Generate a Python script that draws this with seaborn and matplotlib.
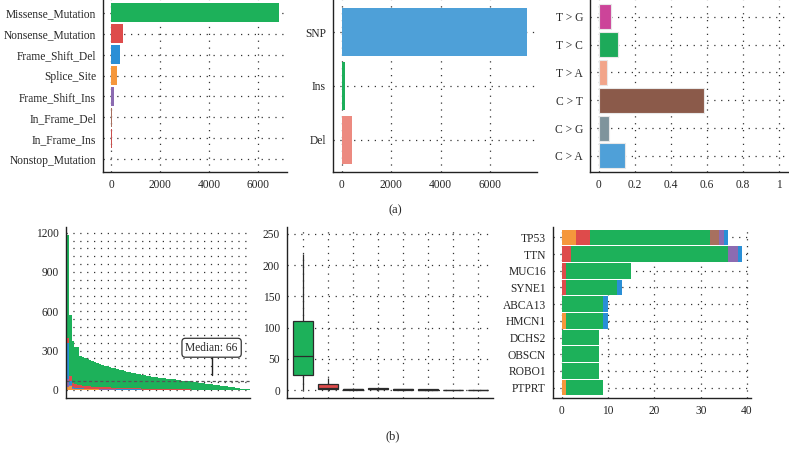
import numpy as np
import pandas as pd
import matplotlib
matplotlib.use("Agg")
import matplotlib.pyplot as plt
import seaborn as sns
from matplotlib.ticker import MultipleLocator

# ---- datos panel (a) ----
clases = ["Missense_Mutation", "Nonsense_Mutation", "Frame_Shift_Del", "Splice_Site",
          "Frame_Shift_Ins", "In_Frame_Del", "In_Frame_Ins", "Nonstop_Mutation"]
conteo_clases = [6860, 475, 370, 235, 100, 55, 20, 10]

tipos = ["SNP", "Ins", "Del"]
conteo_tipos = [7500, 120, 420]

snv = ["T > G", "T > C", "T > A", "C > T", "C > G", "C > A"]
fraccion_snv = [0.07, 0.11, 0.045, 0.585, 0.055, 0.145]

# ---- datos panel (b) ----
total_muestra = [1180, 570, 370, 330, 330, 260, 255, 245, 235, 228,
                 220, 212, 205, 198, 192, 186, 180, 175, 170, 165,
                 160, 155, 150, 145, 140, 136, 132, 128, 124, 120,
                 116, 112, 108, 105, 102, 99, 96, 93, 90, 88,
                 86, 84, 82, 80, 78, 75, 72, 70, 67, 65,
                 62, 60, 57, 55, 52, 50, 47, 45, 42, 40,
                 37, 35, 32, 30, 27, 25, 22, 19, 16, 13,
                 10, 8, 6, 4]
nonsense_muestra = [40, 40, 30, 28, 25, 22, 20, 20, 18, 18,
                    16, 16, 15, 15, 14, 14, 13, 13, 12, 12,
                    12, 11, 11, 10, 10, 10, 9, 9, 9, 8,
                    8, 8, 7, 7, 7, 7, 6, 6, 6, 6,
                    5, 5, 5, 5, 5, 4, 4, 4, 4, 4,
                    3, 3, 3, 3, 3, 3, 2, 2, 2, 2,
                    2, 2, 2, 1, 1, 1, 1, 1, 1, 1,
                    1, 0, 0, 0]
fsdel_muestra = [280, 30, 8, 6, 6, 5, 5, 4, 4, 4,
                 4, 3, 3, 3, 3, 3, 3, 2, 2, 2,
                 2, 2, 2, 2, 2, 2, 2, 2, 1, 1,
                 1, 1, 1, 1, 1, 1, 1, 1, 1, 1,
                 1, 1, 1, 1, 1, 1, 1, 1, 0, 0,
                 0, 0, 0, 0, 0, 0, 0, 0, 0, 0,
                 0, 0, 0, 0, 0, 0, 0, 0, 0, 0,
                 0, 0, 0, 0]
splice_muestra = [20, 30, 10, 8, 6, 6, 5, 5, 5, 4,
                  4, 4, 4, 3, 3, 3, 3, 3, 3, 3,
                  2, 2, 2, 2, 2, 2, 2, 2, 2, 2,
                  1, 1, 1, 1, 1, 1, 1, 1, 1, 1,
                  1, 1, 1, 1, 1, 1, 1, 1, 1, 1,
                  0, 0, 0, 0, 0, 0, 0, 0, 0, 0,
                  0, 0, 0, 0, 0, 0, 0, 0, 0, 0,
                  0, 0, 0, 0]
fsins_muestra = [60, 10, 4, 3, 3, 2, 2, 2, 2, 2,
                 1, 1, 1, 1, 1, 1, 1, 1, 1, 1,
                 1, 1, 1, 1, 1, 1, 1, 1, 1, 1,
                 0, 0, 0, 0, 0, 0, 0, 0, 0, 0,
                 0, 0, 0, 0, 0, 0, 0, 0, 0, 0,
                 0, 0, 0, 0, 0, 0, 0, 0, 0, 0,
                 0, 0, 0, 0, 0, 0, 0, 0, 0, 0,
                 0, 0, 0, 0]
mediana_tmb = 66

# variantes por muestra (boxplot)
caja_valores = {
    "Missense_Mutation": [0, 5, 24, 35, 55, 80, 110, 160, 218],
    "Nonsense_Mutation": [0, 1, 1, 3, 4, 6, 9, 14, 20],
    "Frame_Shift_Del": [0, 0, 0, 1, 1, 1, 2, 3, 4],
    "Splice_Site": [0, 0, 1, 1, 2, 2, 3, 5, 7],
    "Frame_Shift_Ins": [0, 0, 0, 0, 1, 1, 1, 2, 3],
    "In_Frame_Del": [0, 0, 0, 0, 0, 1, 1, 1, 2],
    "In_Frame_Ins": [0, 0, 0, 0, 0, 0, 0, 0, 1],
    "Nonstop_Mutation": [0, 0, 0, 0, 0, 0, 0, 0, 0],
}

genes = ["TP53", "TTN", "MUC16", "SYNE1", "ABCA13", "HMCN1", "DCHS2", "OBSCN", "ROBO1", "PTPRT"]
gen_splice = [3, 0, 0, 0, 0, 1, 0, 0, 0, 1]
gen_nonsense = [3, 2, 1, 1, 0, 0, 0, 0, 0, 0]
gen_missense = [26, 34, 14, 11, 9, 8, 8, 8, 8, 8]
gen_inframe = [2, 0, 0, 0, 0, 0, 0, 0, 0, 0]
gen_fsins = [1, 2, 0, 0, 0, 0, 0, 0, 0, 0]
gen_fsdel = [1, 1, 0, 1, 1, 1, 0, 0, 0, 0]

# ---- colores ----
col_clase = {"Missense_Mutation": "#1DB15A", "Nonsense_Mutation": "#DE4B4B",
             "Frame_Shift_Del": "#2A8FD6", "Splice_Site": "#F5973C",
             "Frame_Shift_Ins": "#8C6BB1", "In_Frame_Del": "#A8705F",
             "In_Frame_Ins": "#C9504E", "Nonstop_Mutation": "#5BB8E0"}
col_tipos = ["#4EA0D8", "#1DAE5A", "#EC8A80"]
col_snv = ["#CC4499", "#1DAA5A", "#F2A58A", "#8B5A4A", "#7F949C", "#4FA0D8"]

sns.set_style("white")
plt.rcParams["font.family"] = ["Liberation Serif", "DejaVu Serif"]
plt.rcParams["font.size"] = 8.3

W, H = 789, 454
fig = plt.figure(figsize=(W / 100, H / 100), dpi=100)


def caja(x0, y0, x1, y1):
    return fig.add_axes([x0 / W, 1 - y1 / H, (x1 - x0) / W, (y1 - y0) / H])


puntos = dict(color="#333333", linestyle=(0, (1, 4.5)), linewidth=0.9)


def estilo(ax):
    sns.despine(ax=ax)
    for s in ["left", "bottom"]:
        ax.spines[s].set_color("#222222")
        ax.spines[s].set_linewidth(1.0)
    ax.tick_params(length=3, width=0.8, color="#222222", pad=2)
    ax.set_axisbelow(True)
    ax.grid(True, **puntos)
    ax.set_xlabel("")
    ax.set_ylabel("")


# (a) clase de variante
ax1 = caja(103, 0, 287, 172)
sns.barplot(x=conteo_clases, y=clases, hue=clases, palette=col_clase, legend=False,
            orient="h", width=0.9, saturation=1, linewidth=0, ax=ax1)
estilo(ax1)
ax1.set_xlim(-330, 7180)
ax1.set_ylim(7.6, -0.6)
ax1.set_xticks([0, 2000, 4000, 6000])

# (a) tipo de variante
ax2 = caja(333, 0, 537, 172)
sns.barplot(x=conteo_tipos, y=tipos, hue=tipos, palette=col_tipos, legend=False,
            orient="h", width=0.9, saturation=1, linewidth=0, ax=ax2)
estilo(ax2)
ax2.set_xlim(-365, 7910)
ax2.set_ylim(2.6, -0.6)
ax2.set_xticks([0, 2000, 4000, 6000])

# (a) clase SNV
ax3 = caja(590, 0, 789, 172)
sns.barplot(x=fraccion_snv, y=snv, hue=snv, palette=col_snv, legend=False,
            orient="h", width=0.9, saturation=1, edgecolor="#e8e8e8", linewidth=0.8, ax=ax3)
estilo(ax3)
ax3.set_xlim(-0.048, 1.057)
ax3.set_ylim(5.58, -0.6)
ax3.set_xticks([0, 0.2, 0.4, 0.6, 0.8, 1.0])
ax3.set_xticklabels(["0", "0.2", "0.4", "0.6", "0.8", "1"])

# (b) variantes por muestra (apilado)
ax4 = caja(65.7, 227, 250, 397.7)
n = len(total_muestra)
muestras = [f"M{i:02d}" for i in range(n)]
spl = np.array(splice_muestra)
capas = [
    (np.array(total_muestra), col_clase["Missense_Mutation"]),
    (spl + np.array(fsins_muestra) + np.array(fsdel_muestra) + np.array(nonsense_muestra),
     col_clase["Nonsense_Mutation"]),
    (spl + np.array(fsins_muestra) + np.array(fsdel_muestra), col_clase["Frame_Shift_Del"]),
    (spl + np.array(fsins_muestra), col_clase["Frame_Shift_Ins"]),
    (spl, col_clase["Splice_Site"]),
]
for valores, c in capas:
    df_capa = pd.DataFrame({"muestra": muestras, "n": valores})
    sns.barplot(data=df_capa, x="muestra", y="n", order=muestras, color=c, saturation=1,
                width=1.0, linewidth=0, errorbar=None, ax=ax4)
estilo(ax4)
ax4.grid(False)
ax4.yaxis.set_minor_locator(MultipleLocator(60))
ax4.grid(True, which="both", axis="y", **puntos)
ax4.set_yticks([0, 300, 600, 900, 1200])
ax4.set_xticks(range(n))
ax4.set_xticklabels([])
ax4.tick_params(axis="x", length=2, width=0.6)
ax4.tick_params(axis="y", which="minor", length=0)
ax4.set_xlim(-0.9, n - 0.5)
ax4.set_ylim(-59, 1243)
ax4.axhline(mediana_tmb, color="#555555", linestyle=(0, (2.5, 2)), linewidth=0.9, zorder=1.5)
ax4.plot([58, 58], [115, 255], color="#222222", linewidth=1.0)
ax4.text(58, 322, f"Median: {mediana_tmb}", ha="center", va="center", fontsize=8.3,
         bbox=dict(boxstyle="round,pad=0.3", fc="white", ec="#333333", lw=0.9))

# (b) boxplot por clase
ax5 = caja(287, 227, 492.7, 397.7)
filas = [(k, v) for k in clases for v in caja_valores[k]]
df_caja = pd.DataFrame(filas, columns=["clase", "n"])
sns.boxplot(data=df_caja, x="clase", y="n", hue="clase", order=clases, palette=col_clase,
            legend=False, showfliers=False, width=0.8, saturation=1, linecolor="#2b2b2b",
            linewidth=0.9, capprops={"visible": False}, ax=ax5)
estilo(ax5)
ax5.set_xticklabels([])
ax5.tick_params(axis="x", length=0)
ax5.set_yticks([0, 50, 100, 150, 200, 250])
ax5.set_xlim(-0.63, 7.6)
ax5.set_ylim(-12.3, 261)

# (b) top 10 genes
ax6 = caja(553, 227, 750.7, 398)
g = [np.array(a) for a in (gen_splice, gen_nonsense, gen_missense, gen_inframe, gen_fsins, gen_fsdel)]
col_gen = [col_clase["Splice_Site"], col_clase["Nonsense_Mutation"], col_clase["Missense_Mutation"],
           col_clase["In_Frame_Del"], col_clase["Frame_Shift_Ins"], col_clase["Frame_Shift_Del"]]
acum = np.cumsum(g, axis=0)
for k in range(len(g) - 1, -1, -1):
    sns.barplot(x=acum[k], y=genes, color=col_gen[k], orient="h", width=0.93, saturation=1,
                linewidth=0, ax=ax6)
estilo(ax6)
ax6.set_xticks([0, 10, 20, 30, 40])
ax6.set_xlim(-1.9, 40.8)
ax6.set_ylim(9.62, -0.62)

fig.text(395 / W, 1 - 210 / H, "(a)", ha="center", va="center", fontsize=9)
fig.text(393 / W, 1 - 436 / H, "(b)", ha="center", va="center", fontsize=9)

fig.savefig("out.png", dpi=100)
